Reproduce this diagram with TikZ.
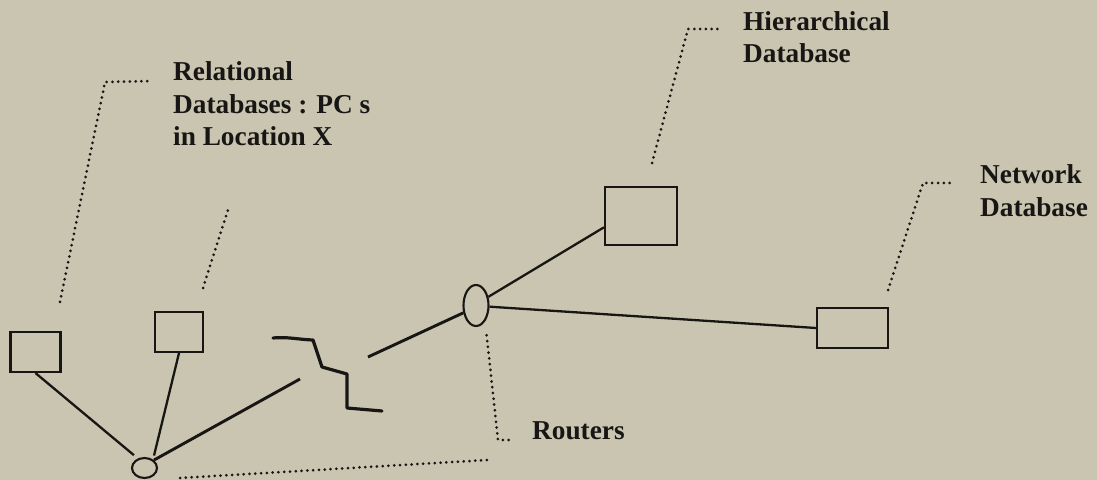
\documentclass[tikz,border=0pt]{standalone}
\usepackage{fontspec}
\setmainfont{Liberation Serif}
\usepackage{tikz}
\usetikzlibrary{shapes.geometric}
\definecolor{paper}{RGB}{201,197,176}
\definecolor{ink}{RGB}{24,22,20}
\tikzset{
  pc/.style={rectangle,draw=ink,line width=2.1bp,inner sep=0pt},
  rtr/.style={ellipse,draw=ink,line width=2.1bp,inner sep=0pt},
  link/.style={draw=ink,line width=2.3bp},
  wan/.style={draw=ink,line width=3.2bp,line join=round,line cap=round},
  lead/.style={draw=ink,line width=3bp,line cap=round,dash pattern=on 0pt off 5.8bp},
  lbl/.style={anchor=north west,inner sep=0pt,align=left,text=ink,
    font=\bfseries\fontsize{27.4}{32.5}\selectfont}
}
\begin{document}
\begin{tikzpicture}[x=1bp,y=-1bp]
\fill[paper] (0,0) rectangle (1097,480);
\useasboundingbox (0,0) rectangle (1097,480);
% computers and routers
\node[pc,minimum width=50bp,minimum height=40bp] (pc1) at (35.5,352) {};
\node[pc,minimum width=48bp,minimum height=40bp] (pc2) at (179,332) {};
\node[pc,minimum width=72bp,minimum height=58bp] (hier) at (641,216) {};
\node[pc,minimum width=71bp,minimum height=40bp] (net) at (852.5,328) {};
\node[rtr,minimum width=25bp,minimum height=20bp] (r1) at (144.5,468) {};
\node[rtr,minimum width=25bp,minimum height=41bp] (r2) at (476,305.5) {};
% labels
\node[lbl] (rel) at (173,61.5) {Relational\\Databases : PC s\\in Location X};
\node[lbl] (hl) at (743,11) {Hierarchical\\Database};
\node[lbl] (nl) at (980,164.5) {Network\\Database};
\node[lbl] (rl) at (532,421) {Routers};
% free ends
\coordinate (w1) at (300,379);
\coordinate (w2) at (368,357);
\coordinate (a1) at (60,302); \coordinate (a2) at (105,82); \coordinate (a3) at (153,81);
\coordinate (b1) at (203,288); \coordinate (b2) at (228,210);
\coordinate (c1) at (652,163); \coordinate (c2) at (688,29); \coordinate (c3) at (723,29);
\coordinate (d1) at (888,290); \coordinate (d2) at (923,183); \coordinate (d3) at (955,183);
\coordinate (e1) at (498,440); \coordinate (e2) at (510,440);
\coordinate (f0) at (180,478); \coordinate (f1) at (487,460);
% connections
\draw[link,shorten >=5bp] (pc1.south) -- (r1.125);
\draw[link,shorten >=4bp] (pc2.south) -- (r1.45);
\draw[link,line width=2.9bp] (r1.40) -- (w1);
\draw[wan] (273,338) to[out=5,in=178] (313,340) -- (322,367) -- (347,374) -- (347,408) -- (382,411);
\draw[link,line width=2.9bp] (w2) -- (r2.-150);
\draw[link] (r2.35) -- (hier.197);
\draw[link] (r2.-5) -- (net.west);
% leaders
\draw[lead] (a1) -- (a2) -- (a3);
\draw[lead] (b1) -- (b2);
\draw[lead] (c1) -- (c2) -- (c3);
\draw[lead] (d1) -- (d2) -- (d3);
\draw[lead,shorten <=14bp] (r2.-60) -- (e1) -- (e2);
\draw[lead] (f0) -- (f1);
\end{tikzpicture}
\end{document}
